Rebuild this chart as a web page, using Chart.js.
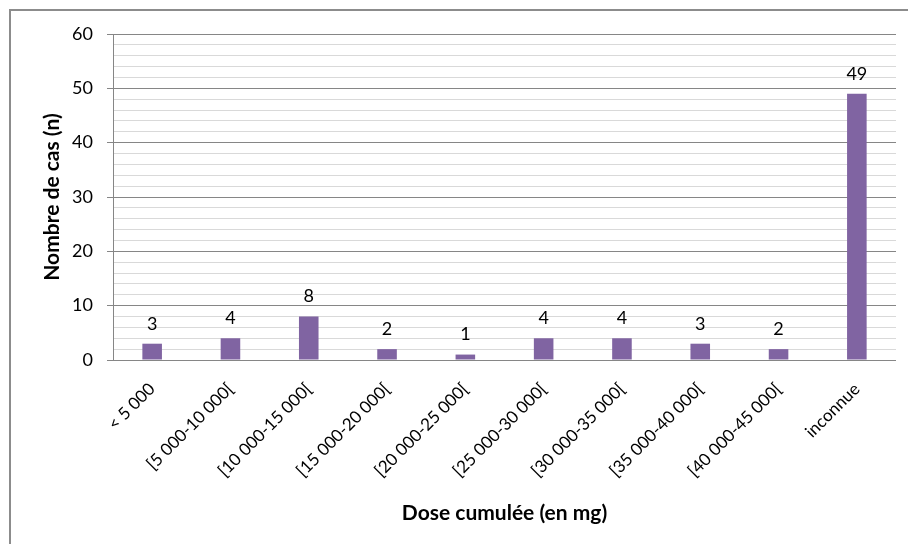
<!DOCTYPE html>
<html><head><meta charset="utf-8">
<script src="https://cdn.jsdelivr.net/npm/chart.js@4"></script>
<style>html,body{margin:0;padding:0;background:#fff}#w{width:908px;height:544px}</style>
</head><body><div id="w"><canvas id="c" width="908" height="544"></canvas></div>
<script>
const categories = ["< 5 000","[5 000-10 000[","[10 000-15 000[","[15 000-20 000[","[20 000-25 000[","[25 000-30 000[","[30 000-35 000[","[35 000-40 000[","[40 000-45 000[","inconnue"];
const cases = [3,4,8,2,1,4,4,3,2,49];
const yTicks = [0,10,20,30,40,50,60];
const FONT = "Lato, 'Open Sans', sans-serif";

const frame = {
  id:'frame',
  beforeDraw(chart){
    const c=chart.ctx; c.save(); c.fillStyle='#fff'; c.fillRect(0,0,chart.width,chart.height);
    c.strokeStyle='#8c8c8c'; c.lineWidth=2; c.strokeRect(10,10,chart.width+20,chart.height+20); c.restore();
  }
};
const labels = {
  id:'vals',
  afterDatasetsDraw(chart){
    const c=chart.ctx; const meta=chart.getDatasetMeta(0);
    c.save(); c.font="18px "+FONT; c.fillStyle='#000'; c.textAlign='center'; c.textBaseline='bottom';
    meta.data.forEach((b,i)=>{ c.fillText(String(cases[i]), b.x, b.y-11); });
    c.restore();
  }
};

new Chart(document.getElementById('c'),{
  type:'bar',
  data:{labels:categories,datasets:[{data:cases,backgroundColor:'#8064A2',barPercentage:0.25,categoryPercentage:1}]},
  plugins:[frame,labels],
  options:{
    responsive:false,animation:false,
    layout:{padding:{left:20,right:12,top:34,bottom:12}},
    plugins:{legend:{display:false},tooltip:{enabled:false}},
    scales:{
      x:{
        grid:{display:false},
        border:{display:false},
        ticks:{font:{family:FONT,size:17},color:'#000',maxRotation:45,minRotation:45,autoSkip:false,padding:11},
        title:{display:true,text:'Dose cumulée (en mg)',font:{family:FONT,size:21,weight:'bold'},color:'#000',padding:{top:0,bottom:6}},
        afterFit(s){ s.height = 544-360-12; }
      },
      y:{
        min:0,max:60,
        ticks:{stepSize:2,autoSkip:false,font:{family:FONT,size:18},color:'#000',padding:14,
          callback:(v)=> yTicks.includes(v)? String(v):''},
        grid:{color:(ctx)=> (ctx.tick && ctx.tick.value%10===0)?'#868686':'#d9d9d9',
              tickColor:(ctx)=> (ctx.tick && ctx.tick.value%10===0)?'#868686':'rgba(0,0,0,0)',
              tickLength:6,lineWidth:1},
        border:{color:'#868686'},
        title:{display:true,text:'Nombre de cas (n)',font:{family:FONT,size:21,weight:'bold'},color:'#000',padding:{top:20,bottom:0}},
        afterFit(s){ s.width = 113-20; }
      }
    }
  }
});
</script></body></html>
